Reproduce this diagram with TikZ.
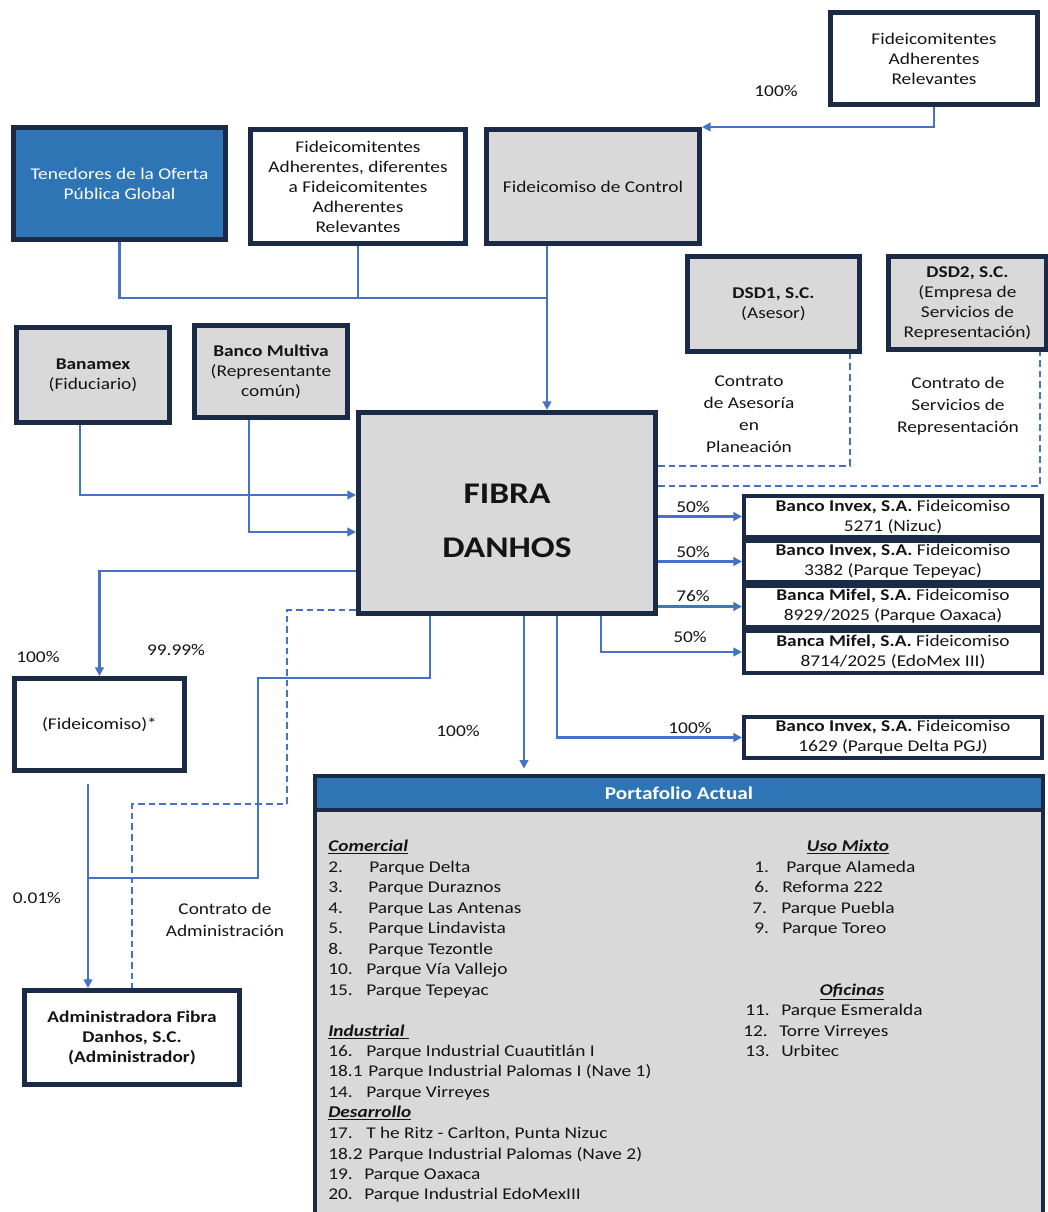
\documentclass[tikz,border=0pt]{standalone}
\usepackage{fontspec}
\setmainfont{Carlito}[FakeStretch=1.18]
\usetikzlibrary{arrows.meta}
\definecolor{navy}{HTML}{1B2A47}
\definecolor{lnblue}{HTML}{4472C4}
\definecolor{hdrblue}{HTML}{2E75B6}
\definecolor{boxgray}{HTML}{D9D9D9}
\definecolor{txt}{HTML}{141414}
\newcommand\fs{\fontsize{12.3}{15}\selectfont}
\newcommand\fsl{\fontsize{12.3}{16.5}\selectfont}
\newcommand\hd[1]{\underline{\textbf{\textit{#1}}}}
\begin{document}
\begin{tikzpicture}[x=0.75pt,y=-0.75pt,
  box/.style={draw=navy, line width=3.75pt, align=center, text=txt, inner sep=1pt, font=\fs},
  gbox/.style={box, fill=boxgray},
  bbox/.style={draw=navy, line width=3pt, align=center, text=txt, inner sep=1pt, font=\fs, fill=white},
  wh/.style 2 args={minimum width=#1*0.75pt, minimum height=#2*0.75pt},
  conn/.style={draw=lnblue, line width=1.6pt},
  arr/.style={conn, -{Triangle[length=6.5pt,width=6.5pt]}},
  dl/.style={draw=lnblue, line width=1.6pt, dash pattern=on 5pt off 3pt},
  lbl/.style={text=txt, font=\fs, inner sep=0pt, align=center},
  lbll/.style={text=txt, font=\fsl, inner sep=0pt, align=center},
  pitem/.style={anchor=west, inner sep=0pt, text height=9pt, text depth=3pt, font=\fs, text=txt},
  pcen/.style={inner sep=0pt, text height=9pt, text depth=3pt, font=\fs, text=txt}
]
\useasboundingbox (0,0) rectangle (1047,1212);

% ---------- boxes ----------
\node[box, fill=white, wh={207}{92}] (far) at (934,58.5) {Fideicomitentes\\Adherentes\\Relevantes};
\node[box, fill=hdrblue, text=white, wh={212}{112}] (ten) at (119.5,183.5) {Tenedores de la Oferta\\Pública Global};
\node[box, fill=white, wh={215}{114}] (fad) at (358,186.5) {Fideicomitentes\\Adherentes, diferentes\\a Fideicomitentes\\Adherentes\\Relevantes};
\node[gbox, wh={213}{114}] (ctrl) at (593,186.5) {\raisebox{-3.5pt}{Fideicomiso de Control}};
\node[gbox, wh={172}{95}] (dsd1) at (773.5,304) {\textbf{DSD1, S.C.}\\(Asesor)};
\node[gbox, wh={158}{93}] (dsd2) at (967.5,303) {\textbf{DSD2, S.C.}\\(Empresa de\\Servicios de\\Representación)};
\node[gbox, wh={153}{95}] (banamex) at (93,375) {\textbf{Banamex}\\(Fiduciario)};
\node[gbox, wh={153}{92}] (multiva) at (271,371.5) {\textbf{Banco Multiva}\\(Representante\\común)};
\node[gbox, wh={297}{201}] (fibra) at (507,513) {};
\node[text=txt, align=center, inner sep=0pt, font=\fontsize{22.5}{41}\selectfont\bfseries] (fibratxt) at (507,521) {FIBRA\\DANHOS};

\node[bbox, wh={298}{41}] (nizuc) at (893,516.5) {\textbf{Banco Invex, S.A.} Fideicomiso\\5271 (Nizuc)};
\node[bbox, wh={298}{41}] (tepe) at (893,561.5) {\textbf{Banco Invex, S.A.} Fideicomiso\\3382 (Parque Tepeyac)};
\node[bbox, wh={298}{41}] (oax) at (893,606.5) {\textbf{Banca Mifel, S.A.} Fideicomiso\\8929/2025 (Parque Oaxaca)};
\node[bbox, wh={298}{42}] (edo) at (893,652) {\textbf{Banca Mifel, S.A.} Fideicomiso\\8714/2025 (EdoMex III)};
\node[bbox, wh={298}{41}] (pgj) at (893,737.5) {\textbf{Banco Invex, S.A.} Fideicomiso\\1629 (Parque Delta PGJ)};

\node[box, fill=white, wh={170}{92}] (fid) at (99.5,724.5) {(Fideicomiso)*};
\node[box, fill=white, wh={215}{94}, font=\fs\bfseries] (adm) at (132,1037.5) {Administradora Fibra\\Danhos, S.C.\\(Administrador)};

% ---------- portfolio ----------
\node[draw=navy, line width=3pt, fill=boxgray, anchor=north west, wh={728}{445}, inner sep=0pt] (port) at (313,774) {};
\node[draw=navy, line width=3pt, fill=hdrblue, anchor=north west, wh={728}{34}, inner sep=0pt, text=white, font=\fontsize{13.5}{16}\selectfont\bfseries] (porthdr) at (313,774) {Portafolio Actual};

\node[pitem] (hcom) at (328,847) {\hd{Comercial}};
\node[pitem] (c2) at (328,868) {\makebox[30.75pt][l]{2.}Parque Delta};
\node[pitem] (c3) at (328,888) {\makebox[30pt][l]{3.}Parque Duraznos};
\node[pitem] (c4) at (328,909) {\makebox[30pt][l]{4.}Parque Las Antenas};
\node[pitem] (c5) at (328,929) {\makebox[30pt][l]{5.}Parque Lindavista};
\node[pitem] (c8) at (328,950) {\makebox[30pt][l]{8.}Parque Tezontle};
\node[pitem] (c10) at (328,970) {\makebox[28.5pt][l]{10.}Parque Vía Vallejo};
\node[pitem] (c15) at (328,991) {\makebox[28.5pt][l]{15.}Parque Tepeyac};
\node[pitem] (hind) at (328,1032) {\hd{Industrial\ }};
\node[pitem] (i16) at (328,1052) {\makebox[28.5pt][l]{16.}Parque Industrial Cuautitlán I};
\node[pitem] (i181) at (328,1072) {\makebox[30pt][l]{18.1}Parque Industrial Palomas I (Nave 1)};
\node[pitem] (i14) at (328,1093) {\makebox[28.5pt][l]{14.}Parque Virreyes};
\node[pitem] (hdes) at (328,1113) {\hd{Desarrollo}};
\node[pitem] (d17) at (328,1134) {\makebox[28.5pt][l]{17.}T he Ritz - Carlton, Punta Nizuc};
\node[pitem] (d182) at (328,1155) {\makebox[30pt][l]{18.2}Parque Industrial Palomas (Nave 2)};
\node[pitem] (d19) at (328,1175) {\makebox[27pt][l]{19.}Parque Oaxaca};
\node[pitem] (d20) at (328,1195) {\makebox[27pt][l]{20.}Parque Industrial EdoMexIII};

\node[pcen] (hmix) at (848,847) {\hd{Uso Mixto}};
\node[pitem] (m1) at (754,868) {\makebox[24pt][l]{1.}Parque Alameda};
\node[pitem] (m6) at (754,888) {\makebox[21pt][l]{6.}Reforma 222};
\node[pitem] (m7) at (752,909) {\makebox[21.75pt][l]{7.}Parque Puebla};
\node[pitem] (m9) at (754,929) {\makebox[21pt][l]{9.}Parque Toreo};
\node[pcen] (hofi) at (852,991) {\hd{Oficinas}};
\node[pitem] (o11) at (745,1011) {\makebox[27pt][l]{11.}Parque Esmeralda};
\node[pitem] (o12) at (743,1032) {\makebox[27pt][l]{12.}Torre Virreyes};
\node[pitem] (o13) at (745,1052) {\makebox[27pt][l]{13.}Urbitec};

% ---------- waypoints ----------
\coordinate (j1) at (547,298);
\coordinate (c1) at (80,495);
\coordinate (cc2) at (249,532);
\coordinate (cc3) at (98,571);
\coordinate (p1) at (430,678);
\coordinate (p2) at (258,678);
\coordinate (p3) at (258,878);
\coordinate (p4) at (88,878);
\coordinate (q1) at (287,610);
\coordinate (q2) at (287,804);
\coordinate (q3) at (132,804);
\coordinate (e1) at (850,466);
\coordinate (e2) at (1040,486);
\coordinate (f1) at (601,651);
\coordinate (f2) at (557,738);
\coordinate (f3) at (524,700);

% ---------- connectors ----------
\draw[arr] (far.south) |- (ctrl.north east);
\draw[conn] (ten.south) |- (j1);
\draw[conn] (fad.south) -- (fad.south |- j1);
\draw[arr] (ctrl.south -| j1) -- (fibra.north -| j1);
\draw[arr] (banamex.south -| c1) |- (fibra.west |- c1);
\draw[arr] (multiva.south -| cc2) |- (fibra.west |- cc2);
\draw[arr] (fibra.west |- cc3) -| (fid.north);
\draw[conn] (fibra.south -| p1) -- (p1) -- (p2) -- (p3) -- (p4);
\draw[arr, shorten <=8pt] (fid.south -| p4) -- (adm.north -| p4);
\draw[dl] (fibra.west |- q1) -- (q1) -- (q2) -- (q3) -- (adm.north -| q3);
\draw[dl] (fibra.east |- e1) -| (dsd1.south -| e1);
\draw[dl] (fibra.east |- e2) -| (dsd2.south -| e2);
\draw[arr] (fibra.east |- nizuc.west) -- (nizuc.west);
\draw[arr] (fibra.east |- tepe.west) -- (tepe.west);
\draw[arr] (fibra.east |- oax.west) -- (oax.west);
\draw[arr] (fibra.south -| f1) |- (edo.west);
\draw[arr] (fibra.south -| f2) |- (pgj.west);
\draw[arr, shorten >=4pt] (fibra.south -| f3) -- (port.north -| f3);

% ---------- labels ----------
\node[lbl] (l1) at (776,91) {100\%};
\node[lbl] (l2) at (693,507) {50\%};
\node[lbl] (l3) at (693,552) {50\%};
\node[lbl] (l4) at (693,596) {76\%};
\node[lbl] (l5) at (690,637) {50\%};
\node[lbl] (l6) at (690,728) {100\%};
\node[lbl] (l7) at (458,731) {100\%};
\node[lbl] (l8) at (38,657) {100\%};
\node[lbl] (l9) at (176,650) {99.99\%};
\node[lbl] (l10) at (37,898) {0.01\%};
\node[lbll] (t1) at (749,414) {Contrato\\de Asesoría\\en\\Planeación};
\node[lbll] (t2) at (958,406) {Contrato de\\Servicios de\\Representación};
\node[lbll] (t3) at (225,920) {Contrato de\\Administración};
\end{tikzpicture}
\end{document}
